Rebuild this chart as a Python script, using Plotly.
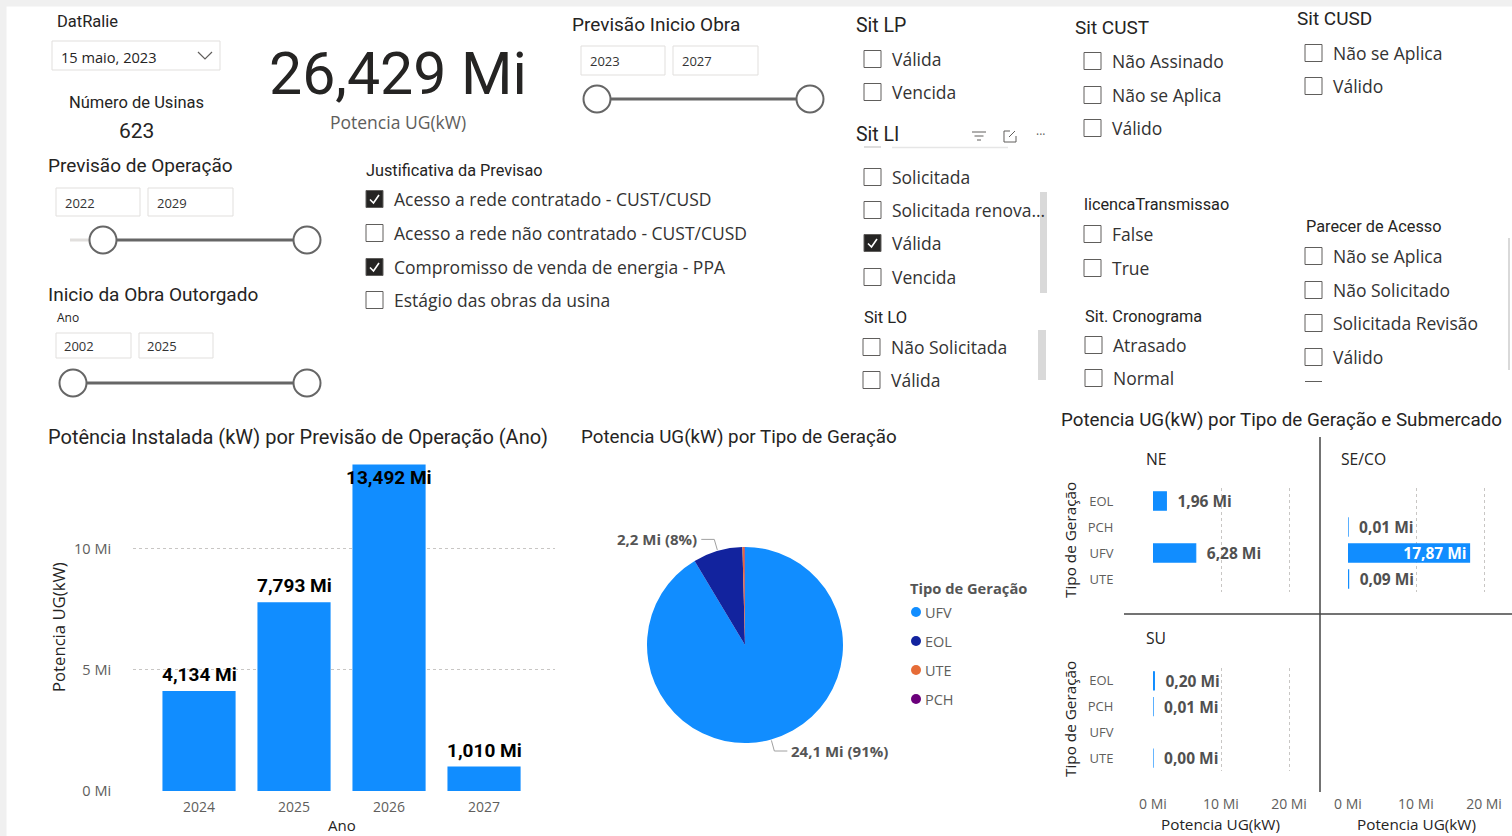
import math
import plotly.graph_objects as go

W, H = 1512, 836
def fx(x): return x / W
def fy(y): return 1 - y / H

# ---------------- data ----------------
anos = ['2024', '2025', '2026', '2027']
potencia_ano = [4.134, 7.793, 13.492, 1.010]
y_ticks_mi = [0, 5, 10]

tipos = ['UFV', 'EOL', 'UTE', 'PCH']
potencia_tipo = [24.14, 2.16, 0.09, 0.02]
cores_tipo = ['#118DFF', '#12239E', '#E66C37', '#6B007B']

ordem_tipos = ['EOL', 'PCH', 'UFV', 'UTE']
ne_tipos = ['EOL', 'UFV']
ne_vals = [1.96, 6.28]
seco_tipos = ['PCH', 'UFV', 'UTE']
seco_vals = [0.01, 17.87, 0.09]
su_tipos = ['EOL', 'PCH', 'UTE']
su_vals = [0.20, 0.01, 0.004]
x_ticks_mi = [0, 10, 20]

kpi_potencia = '26,429 Mi'
kpi_usinas = '623'

DIN = 'Roboto, sans-serif'
SEG = 'Open Sans, sans-serif'
DARK = '#252423'
GRAY = '#605E5C'
BLUE = '#118DFF'

def fmt(v, d):
    return f'{v:.{d}f}'.replace('.', ',')

fig = go.Figure()
shapes = []
ann = []

def text(x, y, t, size, color=DARK, family=SEG, anchor='left', bold=False, angle=0, yanchor='middle'):
    ann.append(dict(x=fx(x), y=fy(y), xref='paper', yref='paper', text=(f'<b>{t}</b>' if bold else t),
                    showarrow=False, xanchor=anchor, yanchor=yanchor, textangle=angle, borderpad=0,
                    font=dict(size=size, color=color, family=family)))

def rect(x0, y0, x1, y1, fill='white', line='#E1DFDD', lw=1):
    shapes.append(dict(type='rect', xref='paper', yref='paper', x0=fx(x0), x1=fx(x1), y0=fy(y1), y1=fy(y0),
                       fillcolor=fill, line=dict(color=line, width=lw), layer='below'))

def line(x0, y0, x1, y1, color='#666666', w=1):
    shapes.append(dict(type='line', xref='paper', yref='paper', x0=fx(x0), x1=fx(x1), y0=fy(y0), y1=fy(y1),
                       line=dict(color=color, width=w)))

def path(pts, color, w=1):
    d = 'M ' + ' L '.join(f'{fx(a):.5f},{fy(b):.5f}' for a, b in pts)
    shapes.append(dict(type='path', xref='paper', yref='paper', path=d, line=dict(color=color, width=w)))

def circle(cx, cy, r, fill='white', lc='#666666', lw=2):
    shapes.append(dict(type='circle', xref='paper', yref='paper', x0=fx(cx - r), x1=fx(cx + r),
                       y0=fy(cy + r), y1=fy(cy - r), fillcolor=fill, line=dict(color=lc, width=lw)))

def checkbox(x, y, checked=False):
    shapes.append(dict(type='rect', xref='paper', yref='paper', x0=fx(x), x1=fx(x + 17), y0=fy(y + 8.5), y1=fy(y - 8.5),
                       fillcolor=DARK if checked else 'white', line=dict(color=GRAY, width=1)))
    if checked:
        path([(x + 4, y + 0.5), (x + 7.5, y + 4), (x + 13, y - 4)], 'white', 1.6)

def slicer_list(xbox, items, size=17.5):
    for (y, t, c) in items:
        checkbox(xbox, y, c)
        text(xbox + 27, y, t, size, '#333333')

def slider(y, k0, k1, light_start=None):
    if light_start is not None:
        line(light_start, y, k0, y, '#E1DFDD', 3)
    line(k0, y, k1, y, '#666666', 3)
    circle(k0, y, 13.5)
    circle(k1, y, 13.5)

# gray frame strips
rect(0, 0, 1512, 6.5, fill='#F0F0F0', line='#F0F0F0', lw=0)
rect(0, 0, 6.5, 836, fill='#F0F0F0', line='#F0F0F0', lw=0)

# ---------------- header slicers ----------------
text(56, 22, 'DatRalie', 16.5, DARK, DIN)
rect(52, 41, 220, 70, line='#E1DFDD')
text(60, 57, '15 maio, 2023', 14.6, DARK, SEG)
path([(198, 52), (205, 59), (212, 52)], GRAY, 1.2)

text(398, 73, kpi_potencia, 59, DARK, DIN, anchor='center')
text(398, 122, 'Potencia UG(kW)', 17.5, GRAY, SEG, anchor='center')
text(136, 102, 'Número de Usinas', 16.5, DARK, DIN, anchor='center')
text(136, 131, kpi_usinas, 21, DARK, DIN, anchor='center')

text(47, 166, 'Previsão de Operação', 19, DARK, DIN)
rect(56, 188, 140, 216); text(64, 203, '2022', 13, '#333333', SEG)
rect(148, 188, 233, 216); text(156, 203, '2029', 13, '#333333', SEG)
slider(240, 103, 307, light_start=70)

text(47, 294, 'Inicio da Obra Outorgado', 19, DARK, DIN)
text(56, 317, 'Ano', 12, DARK, SEG)
rect(56, 333, 131, 358); text(63, 346, '2002', 13, '#333333', SEG)
rect(139, 333, 213, 358); text(146, 346, '2025', 13, '#333333', SEG)
slider(383, 73, 307)

text(571, 24, 'Previsão Inicio Obra', 19, DARK, DIN)
rect(581, 46, 665, 75); text(589, 61, '2023', 13, '#333333', SEG)
rect(673, 46, 758, 75); text(681, 61, '2027', 13, '#333333', SEG)
slider(99, 597, 810)

text(365, 170, 'Justificativa da Previsao', 16.3, DARK, DIN)
slicer_list(366, [(199, 'Acesso a rede contratado - CUST/CUSD', True),
                  (233, 'Acesso a rede não contratado - CUST/CUSD', False),
                  (267, 'Compromisso de venda de energia - PPA', True),
                  (300, 'Estágio das obras da usina', False)])

text(855, 26, 'Sit LP', 19.5, DARK, DIN)
slicer_list(864, [(59, 'Válida', False), (92, 'Vencida', False)])

text(855, 134, 'Sit LI', 19.5, DARK, DIN)
line(972, 132, 986, 132, GRAY, 1); line(974.5, 136, 983.5, 136, GRAY, 1); line(977, 140, 981, 140, GRAY, 1)
path([(1010, 131), (1004, 131), (1004, 142), (1016, 142), (1016, 136)], GRAY, 1)
path([(1009, 137), (1015, 131)], GRAY, 1)
text(1040, 134, '···', 12, GRAY, SEG, anchor='center')
line(864, 147, 881, 147, '#BBBBBB', 1)
line(892, 147.5, 1008, 147.5, '#E6E6E6', 1.5)
slicer_list(864, [(177, 'Solicitada', False), (210, 'Solicitada renova...', False),
                  (243, 'Válida', True), (277, 'Vencida', False)])
rect(1040, 192, 1047, 293, fill='#D9D9D9', line='#D9D9D9', lw=0)

text(863, 318, 'Sit LO', 16.5, DARK, DIN)
slicer_list(863, [(347, 'Não Solicitada', False), (380, 'Válida', False)])
rect(1038, 330, 1046, 380, fill='#D9D9D9', line='#D9D9D9', lw=0)

text(1074, 27, 'Sit CUST', 19, DARK, DIN)
slicer_list(1084, [(61, 'Não Assinado', False), (95, 'Não se Aplica', False), (128, 'Válido', False)])

text(1296, 19, 'Sit CUSD', 19, DARK, DIN)
slicer_list(1305, [(53, 'Não se Aplica', False), (86, 'Válido', False)])

text(1083, 205, 'licencaTransmissao', 16.3, DARK, DIN)
slicer_list(1084, [(234, 'False', False), (268, 'True', False)])

text(1084, 316, 'Sit. Cronograma', 16.3, DARK, DIN)
slicer_list(1085, [(345, 'Atrasado', False), (378, 'Normal', False)])

text(1305, 227, 'Parecer de Acesso', 16.3, DARK, DIN)
slicer_list(1305, [(256, 'Não se Aplica', False), (290, 'Não Solicitado', False),
                   (323, 'Solicitada Revisão', False), (357, 'Válido', False)])
line(1305, 381.5, 1322, 381.5, GRAY, 1)
rect(1508, 238, 1510, 370, fill='#D9D9D9', line='#D9D9D9', lw=0)

# ---------------- bar chart: Potência por Ano ----------------
text(47, 437, 'Potência Instalada (kW) por Previsão de Operação (Ano)', 20, DARK, DIN)
Y_MAX = 13.55
fig.add_trace(go.Bar(x=anos, y=potencia_ano, marker=dict(color=BLUE, line=dict(width=0)), width=0.77,
                     xaxis='x', yaxis='y', textposition='none', hoverinfo='x+y'))
for i, v in enumerate(potencia_ano):
    inside = v > 0.95 * Y_MAX
    ann.append(dict(x=i, y=v, xref='x', yref='y', text=f'<b>{fmt(v, 3)} Mi</b>', showarrow=False,
                    xanchor='center', yanchor='top' if inside else 'bottom', yshift=0 if inside else 3,
                    font=dict(size=19, color='black', family=DIN)))
text(58, 627, 'Potencia UG(kW)', 16.7, DARK, SEG, anchor='center', angle=-90)
text(342, 825, 'Ano', 15, DARK, SEG, anchor='center')

# ---------------- pie ----------------
text(580, 437, 'Potencia UG(kW) por Tipo de Geração', 18.8, DARK, DIN)
PIE_CX, PIE_CY, PIE_R = 745, 645, 98
fig.add_trace(go.Pie(labels=tipos, values=potencia_tipo, marker=dict(colors=cores_tipo, line=dict(width=0)),
                     sort=False, direction='clockwise', rotation=0, textinfo='none', showlegend=False,
                     domain=dict(x=[fx(PIE_CX - PIE_R), fx(PIE_CX + PIE_R)], y=[fy(PIE_CY + PIE_R), fy(PIE_CY - PIE_R)])))
total = sum(potencia_tipo)
cum = 0
for t, v in zip(tipos, potencia_tipo):
    mid = (cum + v / 2) / total * 2 * math.pi
    cum += v
    pct = v / total * 100
    if pct < 5:
        continue
    s, c = math.sin(mid), math.cos(mid)
    p0 = (PIE_CX + (PIE_R + 1) * s, PIE_CY - (PIE_R + 1) * c)
    p1 = (PIE_CX + (PIE_R + 12) * s, PIE_CY - (PIE_R + 12) * c)
    sign = 1 if s > 0 else -1
    p2 = (p1[0] + sign * 13, p1[1])
    path([p0, p1, p2], '#A0A0A0', 1)
    text(p2[0] + sign * 3, p2[1], f'{fmt(v, 1)} Mi ({pct:.0f}%)', 15, '#555555', SEG,
         anchor='left' if sign > 0 else 'right', bold=True)

text(909, 588, 'Tipo de Geração', 14.7, '#555555', SEG, bold=True)
for i, (t, col) in enumerate(zip(tipos, cores_tipo)):
    yy = 612 + i * 29
    circle(916, yy, 5, fill=col, lc=col, lw=0)
    text(924, yy, t, 14.5, GRAY, SEG)

# ---------------- small multiples ----------------
text(1060, 420, 'Potencia UG(kW) por Tipo de Geração e Submercado', 18.8, DARK, DIN)
X_MAX = 22.35

def panel_bar(tps, vals, xa, ya):
    ys = [ordem_tipos.index(t) for t in tps]
    pos = ['inside' if v > 10 else 'outside' for v in vals]
    txt = [f'<b>{fmt(v, 2)} Mi</b>' if p == 'inside' else f'<b>\u00a0\u00a0{fmt(v, 2)} Mi</b>' for v, p in zip(vals, pos)]
    fig.add_trace(go.Bar(x=vals, y=ys, orientation='h', width=0.7, xaxis=xa, yaxis=ya,
                         marker=dict(color=BLUE, line=dict(color=BLUE, width=1.2)),
                         text=txt, textposition=pos, insidetextanchor='end', cliponaxis=False,
                         insidetextfont=dict(color='white', size=15.5, family=SEG),
                         outsidetextfont=dict(color='#505050', size=15.5, family=SEG),
                         hoverinfo='x'))

panel_bar(ne_tipos, ne_vals, 'x2', 'y2')
panel_bar(seco_tipos, seco_vals, 'x3', 'y3')
panel_bar(su_tipos, su_vals, 'x4', 'y4')

text(1145, 459, 'NE', 15.7, DARK, SEG)
text(1340, 459, 'SE/CO', 15.7, DARK, SEG)
text(1145, 638, 'SU', 15.7, DARK, SEG)
line(1320, 437, 1320, 792, '#444444', 1.5)
line(1124, 614, 1512, 614, '#444444', 1.5)
text(1070, 540, 'Tipo de Geração', 15.3, DARK, SEG, anchor='center', angle=-90)
text(1070, 719, 'Tipo de Geração', 15.3, DARK, SEG, anchor='center', angle=-90)
text(1220, 824, 'Potencia UG(kW)', 15.3, DARK, SEG, anchor='center')
text(1416, 824, 'Potencia UG(kW)', 15.3, DARK, SEG, anchor='center')

grid = dict(showgrid=True, gridcolor='#C8C6C4', griddash='dot', gridwidth=1, zeroline=False, showline=False,
            automargin=False)
nog = dict(showgrid=False, zeroline=False, showline=False, automargin=False)
tickc = 'rgba(0,0,0,0)'

def xpanel(x0, x1, anchor, labels, position=None):
    d = dict(domain=[fx(x0), fx(x1)], range=[0, X_MAX], tickvals=x_ticks_mi,
             ticktext=[f'{v} Mi' for v in x_ticks_mi], showticklabels=labels, ticks='outside', ticklen=20,
             tickcolor=tickc, tickfont=dict(size=14, color=GRAY, family=SEG), anchor=anchor, **grid)
    if position is not None:
        d['position'] = position
    return d

def ypanel(y0, y1, anchor, labels):
    return dict(domain=[fy(y1), fy(y0)], range=[3.5, -0.5], tickvals=list(range(len(ordem_tipos))),
                ticktext=ordem_tipos, showticklabels=labels, ticks='outside', ticklen=36, tickcolor=tickc,
                tickfont=dict(size=13, color=GRAY, family=SEG), anchor=anchor, **nog)

fig.update_layout(
    width=W, height=H, autosize=False, margin=dict(l=0, r=0, t=0, b=0, pad=0),
    paper_bgcolor='white', plot_bgcolor='rgba(0,0,0,0)', showlegend=False,
    font=dict(family=SEG),
    uniformtext=dict(minsize=15, mode='show'),
    xaxis=dict(domain=[fx(133), fx(555)], range=[-0.695, 3.747], type='category', anchor='y',
               ticks='outside', ticklen=3, tickcolor=tickc,
               tickfont=dict(size=14, color=GRAY, family=SEG), **nog),
    yaxis=dict(domain=[fy(791), fy(463)], range=[0, Y_MAX], tickvals=y_ticks_mi,
               ticktext=[f'{v} Mi' for v in y_ticks_mi], anchor='x', ticks='outside', ticklen=18,
               tickcolor=tickc, tickfont=dict(size=14.5, color=GRAY, family=SEG), **grid),
    xaxis2=xpanel(1153, 1305, 'y2', False),
    yaxis2=ypanel(488, 592, 'x2', True),
    xaxis3=xpanel(1348, 1500, 'free', True, position=fy(771)),
    yaxis3=ypanel(488, 592, 'x3', False),
    xaxis4=xpanel(1153, 1305, 'y4', True),
    yaxis4=ypanel(668, 771, 'x4', True),
    shapes=shapes,
    annotations=ann,
)

fig.write_html('out.html', include_plotlyjs=True, config=dict(displayModeBar=False),
               post_script="document.body.style.margin='0';document.body.style.overflow='hidden';")
